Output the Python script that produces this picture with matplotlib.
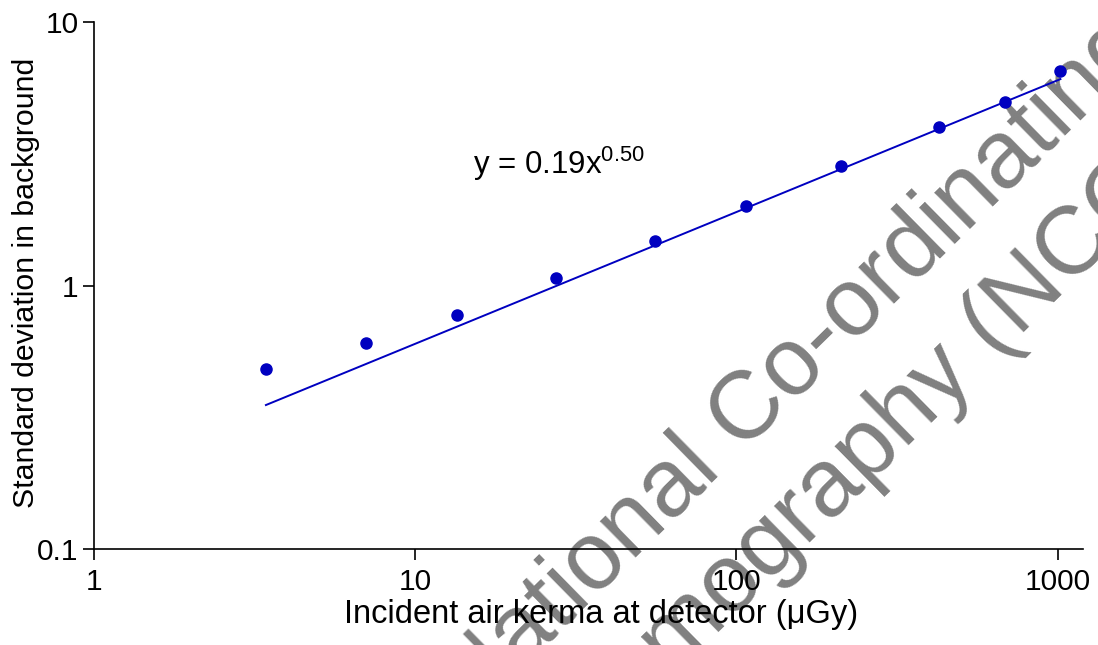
import matplotlib
matplotlib.use("Agg")
import matplotlib.pyplot as plt
import numpy as np

plt.rcParams['font.family'] = ['Liberation Sans', 'DejaVu Sans']
plt.rcParams['mathtext.fontset'] = 'custom'
plt.rcParams['mathtext.rm'] = 'Liberation Sans'

# incident air kerma (uGy) and background standard deviation
kerma = [3.43, 7.03, 13.5, 27.5, 55.9, 107, 212, 426, 684, 1021]
sd_bg = [0.482, 0.605, 0.773, 1.068, 1.475, 2.00, 2.84, 4.00, 4.97, 6.52]

# power law fit y = a * x^b
fit_a = 0.19
fit_b = 0.50

x_ticks = [1, 10, 100, 1000]
y_ticks = [0.1, 1, 10]

blue = '#0000c0'

fig = plt.figure(figsize=(10.98, 6.45), dpi=100)
ax = fig.add_axes([0.0856, 0.1488, 0.9007, 0.8171])
# keep the axes (and its labels) on top of the watermark
ax.set_zorder(2)
ax.patch.set_alpha(0)

# watermark behind the plot
wm_color = '#808080'
fig.text(472 / 1098, 1 - 719 / 645, "National Co-ordinating Centre for the",
         rotation=44.5, rotation_mode='anchor', ha='left', va='baseline',
         fontsize=69, color=wm_color, zorder=0)
fig.text(190 / 1098, 1 - 1152 / 645, "Physics of Mammography (NCCPM)",
         rotation=44.5, rotation_mode='anchor', ha='left', va='baseline',
         fontsize=69, color=wm_color, zorder=0)

x = np.array(kerma)
xf = np.array([x.min(), x.max()])
ax.plot(xf, fit_a * xf ** fit_b, color=blue, linewidth=1.4, zorder=3)
ax.plot(kerma, sd_bg, 'o', color=blue, markersize=8, zorder=4)

ax.set_xscale('log')
ax.set_yscale('log')
ax.set_xlim(1, 1200)
ax.set_ylim(0.1, 10)
ax.set_xticks(x_ticks)
ax.set_xticklabels([str(v) for v in x_ticks])
ax.set_yticks(y_ticks)
ax.set_yticklabels(['0.1', '1', '10'])
ax.minorticks_off()

for side in ['top', 'right']:
    ax.spines[side].set_visible(False)
for side in ['left', 'bottom']:
    ax.spines[side].set_linewidth(1.2)
ax.tick_params(direction='out', length=8, width=1.2, labelsize=21.5)
ax.tick_params(axis='x', pad=6)
ax.tick_params(axis='y', pad=3)

ax.set_xlabel("Incident air kerma at detector (\u03bcGy)", fontsize=23.5)
ax.set_ylabel("Standard deviation in background", fontsize=21.8)
ax.xaxis.set_label_coords(0.513, -0.095)
ax.yaxis.set_label_coords(-0.0546, 0.505)

ax.text(15.1, 2.66, r'y = 0.19x$^{\mathrm{0.50}}$', fontsize=22.5,
        ha='left', va='baseline', zorder=5)

fig.savefig("out.png", dpi=100)
